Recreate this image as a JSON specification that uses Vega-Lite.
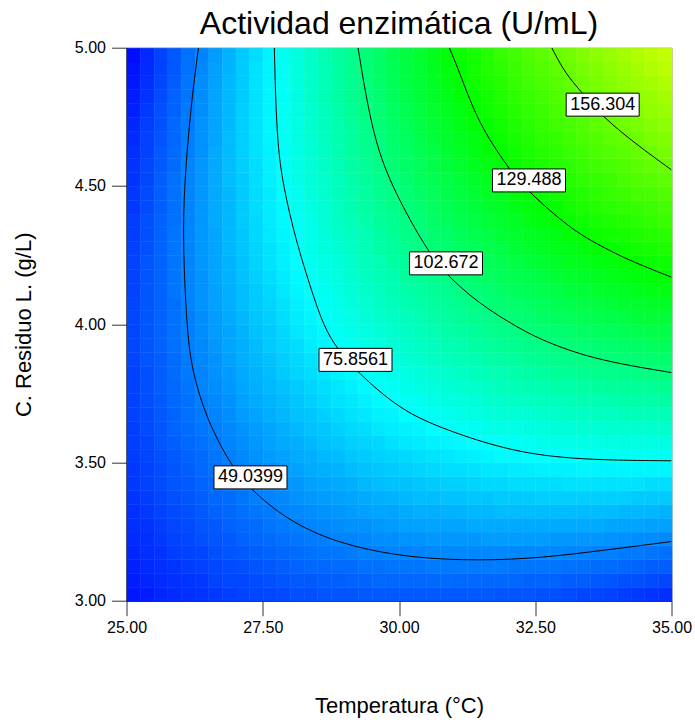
{
  "$schema": "https://vega.github.io/schema/vega-lite/v6.json",
  "width": 545,
  "height": 553,
  "autosize": {"type": "none"},
  "padding": {"left": 126.5, "top": 47.7, "right": 23.5, "bottom": 123.3},
  "background": "white",
  "title": {
    "text": "Actividad enzimática (U/mL)",
    "fontSize": 32,
    "fontWeight": "normal",
    "font": "Liberation Sans",
    "color": "black",
    "anchor": "middle",
    "offset": -1
  },
  "config": {
    "font": "Liberation Sans",
    "view": {"stroke": "#8c8c8c", "strokeWidth": 1},
    "axis": {
      "grid": false,
      "domainColor": "black",
      "domainWidth": 1,
      "tickColor": "#333333",
      "tickSize": 15,
      "labelFontSize": 16,
      "labelColor": "black",
      "titleFontSize": 22,
      "titleFontWeight": "normal",
      "titleColor": "black",
      "labelFlush": false,
      "labelOverlap": false,
      "zindex": 1
    }
  },
  "datasets": {
    "grid": [
      {"t":25.125,"c":3.025,"v":27},{"t":25.375,"c":3.025,"v":28},{"t":25.625,"c":3.025,"v":30},{"t":25.875,"c":3.025,"v":31},{"t":26.125,"c":3.025,"v":32},{"t":26.375,"c":3.025,"v":33},{"t":26.625,"c":3.025,"v":34},{"t":26.875,"c":3.025,"v":35},{"t":27.125,"c":3.025,"v":36},{"t":27.375,"c":3.025,"v":37},{"t":27.625,"c":3.025,"v":37},{"t":27.875,"c":3.025,"v":38},{"t":28.125,"c":3.025,"v":39},{"t":28.375,"c":3.025,"v":39},{"t":28.625,"c":3.025,"v":40},{"t":28.875,"c":3.025,"v":40},{"t":29.125,"c":3.025,"v":40},{"t":29.375,"c":3.025,"v":41},{"t":29.625,"c":3.025,"v":41},{"t":29.875,"c":3.025,"v":41},{"t":30.125,"c":3.025,"v":41},{"t":30.375,"c":3.025,"v":41},{"t":30.625,"c":3.025,"v":41},{"t":30.875,"c":3.025,"v":41},{"t":31.125,"c":3.025,"v":41},{"t":31.375,"c":3.025,"v":41},{"t":31.625,"c":3.025,"v":41},{"t":31.875,"c":3.025,"v":40},{"t":32.125,"c":3.025,"v":40},{"t":32.375,"c":3.025,"v":40},{"t":32.625,"c":3.025,"v":39},{"t":32.875,"c":3.025,"v":39},{"t":33.125,"c":3.025,"v":38},{"t":33.375,"c":3.025,"v":37},{"t":33.625,"c":3.025,"v":37},{"t":33.875,"c":3.025,"v":36},{"t":34.125,"c":3.025,"v":35},{"t":34.375,"c":3.025,"v":34},{"t":34.625,"c":3.025,"v":33},{"t":34.875,"c":3.025,"v":32},
      {"t":25.125,"c":3.075,"v":28},{"t":25.375,"c":3.075,"v":30},{"t":25.625,"c":3.075,"v":31},{"t":25.875,"c":3.075,"v":32},{"t":26.125,"c":3.075,"v":33},{"t":26.375,"c":3.075,"v":34},{"t":26.625,"c":3.075,"v":36},{"t":26.875,"c":3.075,"v":37},{"t":27.125,"c":3.075,"v":37},{"t":27.375,"c":3.075,"v":38},{"t":27.625,"c":3.075,"v":39},{"t":27.875,"c":3.075,"v":40},{"t":28.125,"c":3.075,"v":41},{"t":28.375,"c":3.075,"v":41},{"t":28.625,"c":3.075,"v":42},{"t":28.875,"c":3.075,"v":42},{"t":29.125,"c":3.075,"v":43},{"t":29.375,"c":3.075,"v":43},{"t":29.625,"c":3.075,"v":44},{"t":29.875,"c":3.075,"v":44},{"t":30.125,"c":3.075,"v":44},{"t":30.375,"c":3.075,"v":44},{"t":30.625,"c":3.075,"v":44},{"t":30.875,"c":3.075,"v":45},{"t":31.125,"c":3.075,"v":44},{"t":31.375,"c":3.075,"v":44},{"t":31.625,"c":3.075,"v":44},{"t":31.875,"c":3.075,"v":44},{"t":32.125,"c":3.075,"v":44},{"t":32.375,"c":3.075,"v":43},{"t":32.625,"c":3.075,"v":43},{"t":32.875,"c":3.075,"v":43},{"t":33.125,"c":3.075,"v":42},{"t":33.375,"c":3.075,"v":42},{"t":33.625,"c":3.075,"v":41},{"t":33.875,"c":3.075,"v":40},{"t":34.125,"c":3.075,"v":39},{"t":34.375,"c":3.075,"v":39},{"t":34.625,"c":3.075,"v":38},{"t":34.875,"c":3.075,"v":37},
      {"t":25.125,"c":3.125,"v":29},{"t":25.375,"c":3.125,"v":31},{"t":25.625,"c":3.125,"v":32},{"t":25.875,"c":3.125,"v":33},{"t":26.125,"c":3.125,"v":35},{"t":26.375,"c":3.125,"v":36},{"t":26.625,"c":3.125,"v":37},{"t":26.875,"c":3.125,"v":38},{"t":27.125,"c":3.125,"v":39},{"t":27.375,"c":3.125,"v":40},{"t":27.625,"c":3.125,"v":41},{"t":27.875,"c":3.125,"v":42},{"t":28.125,"c":3.125,"v":43},{"t":28.375,"c":3.125,"v":44},{"t":28.625,"c":3.125,"v":44},{"t":28.875,"c":3.125,"v":45},{"t":29.125,"c":3.125,"v":45},{"t":29.375,"c":3.125,"v":46},{"t":29.625,"c":3.125,"v":46},{"t":29.875,"c":3.125,"v":47},{"t":30.125,"c":3.125,"v":47},{"t":30.375,"c":3.125,"v":47},{"t":30.625,"c":3.125,"v":48},{"t":30.875,"c":3.125,"v":48},{"t":31.125,"c":3.125,"v":48},{"t":31.375,"c":3.125,"v":48},{"t":31.625,"c":3.125,"v":48},{"t":31.875,"c":3.125,"v":48},{"t":32.125,"c":3.125,"v":47},{"t":32.375,"c":3.125,"v":47},{"t":32.625,"c":3.125,"v":47},{"t":32.875,"c":3.125,"v":47},{"t":33.125,"c":3.125,"v":46},{"t":33.375,"c":3.125,"v":46},{"t":33.625,"c":3.125,"v":45},{"t":33.875,"c":3.125,"v":45},{"t":34.125,"c":3.125,"v":44},{"t":34.375,"c":3.125,"v":43},{"t":34.625,"c":3.125,"v":42},{"t":34.875,"c":3.125,"v":42},
      {"t":25.125,"c":3.175,"v":30},{"t":25.375,"c":3.175,"v":32},{"t":25.625,"c":3.175,"v":33},{"t":25.875,"c":3.175,"v":35},{"t":26.125,"c":3.175,"v":36},{"t":26.375,"c":3.175,"v":37},{"t":26.625,"c":3.175,"v":39},{"t":26.875,"c":3.175,"v":40},{"t":27.125,"c":3.175,"v":41},{"t":27.375,"c":3.175,"v":42},{"t":27.625,"c":3.175,"v":43},{"t":27.875,"c":3.175,"v":44},{"t":28.125,"c":3.175,"v":45},{"t":28.375,"c":3.175,"v":46},{"t":28.625,"c":3.175,"v":47},{"t":28.875,"c":3.175,"v":47},{"t":29.125,"c":3.175,"v":48},{"t":29.375,"c":3.175,"v":49},{"t":29.625,"c":3.175,"v":49},{"t":29.875,"c":3.175,"v":50},{"t":30.125,"c":3.175,"v":50},{"t":30.375,"c":3.175,"v":50},{"t":30.625,"c":3.175,"v":51},{"t":30.875,"c":3.175,"v":51},{"t":31.125,"c":3.175,"v":51},{"t":31.375,"c":3.175,"v":51},{"t":31.625,"c":3.175,"v":51},{"t":31.875,"c":3.175,"v":51},{"t":32.125,"c":3.175,"v":51},{"t":32.375,"c":3.175,"v":51},{"t":32.625,"c":3.175,"v":51},{"t":32.875,"c":3.175,"v":51},{"t":33.125,"c":3.175,"v":50},{"t":33.375,"c":3.175,"v":50},{"t":33.625,"c":3.175,"v":49},{"t":33.875,"c":3.175,"v":49},{"t":34.125,"c":3.175,"v":48},{"t":34.375,"c":3.175,"v":48},{"t":34.625,"c":3.175,"v":47},{"t":34.875,"c":3.175,"v":46},
      {"t":25.125,"c":3.225,"v":31},{"t":25.375,"c":3.225,"v":32},{"t":25.625,"c":3.225,"v":34},{"t":25.875,"c":3.225,"v":36},{"t":26.125,"c":3.225,"v":37},{"t":26.375,"c":3.225,"v":39},{"t":26.625,"c":3.225,"v":40},{"t":26.875,"c":3.225,"v":41},{"t":27.125,"c":3.225,"v":43},{"t":27.375,"c":3.225,"v":44},{"t":27.625,"c":3.225,"v":45},{"t":27.875,"c":3.225,"v":46},{"t":28.125,"c":3.225,"v":47},{"t":28.375,"c":3.225,"v":48},{"t":28.625,"c":3.225,"v":49},{"t":28.875,"c":3.225,"v":50},{"t":29.125,"c":3.225,"v":50},{"t":29.375,"c":3.225,"v":51},{"t":29.625,"c":3.225,"v":52},{"t":29.875,"c":3.225,"v":52},{"t":30.125,"c":3.225,"v":53},{"t":30.375,"c":3.225,"v":53},{"t":30.625,"c":3.225,"v":54},{"t":30.875,"c":3.225,"v":54},{"t":31.125,"c":3.225,"v":54},{"t":31.375,"c":3.225,"v":54},{"t":31.625,"c":3.225,"v":55},{"t":31.875,"c":3.225,"v":55},{"t":32.125,"c":3.225,"v":55},{"t":32.375,"c":3.225,"v":55},{"t":32.625,"c":3.225,"v":55},{"t":32.875,"c":3.225,"v":54},{"t":33.125,"c":3.225,"v":54},{"t":33.375,"c":3.225,"v":54},{"t":33.625,"c":3.225,"v":54},{"t":33.875,"c":3.225,"v":53},{"t":34.125,"c":3.225,"v":53},{"t":34.375,"c":3.225,"v":52},{"t":34.625,"c":3.225,"v":52},{"t":34.875,"c":3.225,"v":51},
      {"t":25.125,"c":3.275,"v":32},{"t":25.375,"c":3.275,"v":33},{"t":25.625,"c":3.275,"v":35},{"t":25.875,"c":3.275,"v":37},{"t":26.125,"c":3.275,"v":38},{"t":26.375,"c":3.275,"v":40},{"t":26.625,"c":3.275,"v":41},{"t":26.875,"c":3.275,"v":43},{"t":27.125,"c":3.275,"v":44},{"t":27.375,"c":3.275,"v":45},{"t":27.625,"c":3.275,"v":47},{"t":27.875,"c":3.275,"v":48},{"t":28.125,"c":3.275,"v":49},{"t":28.375,"c":3.275,"v":50},{"t":28.625,"c":3.275,"v":51},{"t":28.875,"c":3.275,"v":52},{"t":29.125,"c":3.275,"v":53},{"t":29.375,"c":3.275,"v":53},{"t":29.625,"c":3.275,"v":54},{"t":29.875,"c":3.275,"v":55},{"t":30.125,"c":3.275,"v":56},{"t":30.375,"c":3.275,"v":56},{"t":30.625,"c":3.275,"v":57},{"t":30.875,"c":3.275,"v":57},{"t":31.125,"c":3.275,"v":57},{"t":31.375,"c":3.275,"v":58},{"t":31.625,"c":3.275,"v":58},{"t":31.875,"c":3.275,"v":58},{"t":32.125,"c":3.275,"v":58},{"t":32.375,"c":3.275,"v":58},{"t":32.625,"c":3.275,"v":58},{"t":32.875,"c":3.275,"v":58},{"t":33.125,"c":3.275,"v":58},{"t":33.375,"c":3.275,"v":58},{"t":33.625,"c":3.275,"v":58},{"t":33.875,"c":3.275,"v":57},{"t":34.125,"c":3.275,"v":57},{"t":34.375,"c":3.275,"v":57},{"t":34.625,"c":3.275,"v":56},{"t":34.875,"c":3.275,"v":56},
      {"t":25.125,"c":3.325,"v":32},{"t":25.375,"c":3.325,"v":34},{"t":25.625,"c":3.325,"v":36},{"t":25.875,"c":3.325,"v":38},{"t":26.125,"c":3.325,"v":39},{"t":26.375,"c":3.325,"v":41},{"t":26.625,"c":3.325,"v":43},{"t":26.875,"c":3.325,"v":44},{"t":27.125,"c":3.325,"v":46},{"t":27.375,"c":3.325,"v":47},{"t":27.625,"c":3.325,"v":48},{"t":27.875,"c":3.325,"v":50},{"t":28.125,"c":3.325,"v":51},{"t":28.375,"c":3.325,"v":52},{"t":28.625,"c":3.325,"v":53},{"t":28.875,"c":3.325,"v":54},{"t":29.125,"c":3.325,"v":55},{"t":29.375,"c":3.325,"v":56},{"t":29.625,"c":3.325,"v":57},{"t":29.875,"c":3.325,"v":57},{"t":30.125,"c":3.325,"v":58},{"t":30.375,"c":3.325,"v":59},{"t":30.625,"c":3.325,"v":59},{"t":30.875,"c":3.325,"v":60},{"t":31.125,"c":3.325,"v":60},{"t":31.375,"c":3.325,"v":61},{"t":31.625,"c":3.325,"v":61},{"t":31.875,"c":3.325,"v":62},{"t":32.125,"c":3.325,"v":62},{"t":32.375,"c":3.325,"v":62},{"t":32.625,"c":3.325,"v":62},{"t":32.875,"c":3.325,"v":62},{"t":33.125,"c":3.325,"v":62},{"t":33.375,"c":3.325,"v":62},{"t":33.625,"c":3.325,"v":62},{"t":33.875,"c":3.325,"v":62},{"t":34.125,"c":3.325,"v":61},{"t":34.375,"c":3.325,"v":61},{"t":34.625,"c":3.325,"v":61},{"t":34.875,"c":3.325,"v":60},
      {"t":25.125,"c":3.375,"v":33},{"t":25.375,"c":3.375,"v":35},{"t":25.625,"c":3.375,"v":37},{"t":25.875,"c":3.375,"v":39},{"t":26.125,"c":3.375,"v":40},{"t":26.375,"c":3.375,"v":42},{"t":26.625,"c":3.375,"v":44},{"t":26.875,"c":3.375,"v":45},{"t":27.125,"c":3.375,"v":47},{"t":27.375,"c":3.375,"v":49},{"t":27.625,"c":3.375,"v":50},{"t":27.875,"c":3.375,"v":51},{"t":28.125,"c":3.375,"v":53},{"t":28.375,"c":3.375,"v":54},{"t":28.625,"c":3.375,"v":55},{"t":28.875,"c":3.375,"v":56},{"t":29.125,"c":3.375,"v":57},{"t":29.375,"c":3.375,"v":58},{"t":29.625,"c":3.375,"v":59},{"t":29.875,"c":3.375,"v":60},{"t":30.125,"c":3.375,"v":61},{"t":30.375,"c":3.375,"v":62},{"t":30.625,"c":3.375,"v":62},{"t":30.875,"c":3.375,"v":63},{"t":31.125,"c":3.375,"v":63},{"t":31.375,"c":3.375,"v":64},{"t":31.625,"c":3.375,"v":64},{"t":31.875,"c":3.375,"v":65},{"t":32.125,"c":3.375,"v":65},{"t":32.375,"c":3.375,"v":65},{"t":32.625,"c":3.375,"v":66},{"t":32.875,"c":3.375,"v":66},{"t":33.125,"c":3.375,"v":66},{"t":33.375,"c":3.375,"v":66},{"t":33.625,"c":3.375,"v":66},{"t":33.875,"c":3.375,"v":66},{"t":34.125,"c":3.375,"v":66},{"t":34.375,"c":3.375,"v":65},{"t":34.625,"c":3.375,"v":65},{"t":34.875,"c":3.375,"v":65},
      {"t":25.125,"c":3.425,"v":34},{"t":25.375,"c":3.425,"v":36},{"t":25.625,"c":3.425,"v":38},{"t":25.875,"c":3.425,"v":40},{"t":26.125,"c":3.425,"v":41},{"t":26.375,"c":3.425,"v":43},{"t":26.625,"c":3.425,"v":45},{"t":26.875,"c":3.425,"v":47},{"t":27.125,"c":3.425,"v":48},{"t":27.375,"c":3.425,"v":50},{"t":27.625,"c":3.425,"v":52},{"t":27.875,"c":3.425,"v":53},{"t":28.125,"c":3.425,"v":54},{"t":28.375,"c":3.425,"v":56},{"t":28.625,"c":3.425,"v":57},{"t":28.875,"c":3.425,"v":58},{"t":29.125,"c":3.425,"v":59},{"t":29.375,"c":3.425,"v":61},{"t":29.625,"c":3.425,"v":62},{"t":29.875,"c":3.425,"v":63},{"t":30.125,"c":3.425,"v":63},{"t":30.375,"c":3.425,"v":64},{"t":30.625,"c":3.425,"v":65},{"t":30.875,"c":3.425,"v":66},{"t":31.125,"c":3.425,"v":66},{"t":31.375,"c":3.425,"v":67},{"t":31.625,"c":3.425,"v":68},{"t":31.875,"c":3.425,"v":68},{"t":32.125,"c":3.425,"v":69},{"t":32.375,"c":3.425,"v":69},{"t":32.625,"c":3.425,"v":69},{"t":32.875,"c":3.425,"v":69},{"t":33.125,"c":3.425,"v":70},{"t":33.375,"c":3.425,"v":70},{"t":33.625,"c":3.425,"v":70},{"t":33.875,"c":3.425,"v":70},{"t":34.125,"c":3.425,"v":70},{"t":34.375,"c":3.425,"v":70},{"t":34.625,"c":3.425,"v":69},{"t":34.875,"c":3.425,"v":69},
      {"t":25.125,"c":3.475,"v":34},{"t":25.375,"c":3.475,"v":36},{"t":25.625,"c":3.475,"v":38},{"t":25.875,"c":3.475,"v":40},{"t":26.125,"c":3.475,"v":42},{"t":26.375,"c":3.475,"v":44},{"t":26.625,"c":3.475,"v":46},{"t":26.875,"c":3.475,"v":48},{"t":27.125,"c":3.475,"v":50},{"t":27.375,"c":3.475,"v":51},{"t":27.625,"c":3.475,"v":53},{"t":27.875,"c":3.475,"v":55},{"t":28.125,"c":3.475,"v":56},{"t":28.375,"c":3.475,"v":58},{"t":28.625,"c":3.475,"v":59},{"t":28.875,"c":3.475,"v":60},{"t":29.125,"c":3.475,"v":62},{"t":29.375,"c":3.475,"v":63},{"t":29.625,"c":3.475,"v":64},{"t":29.875,"c":3.475,"v":65},{"t":30.125,"c":3.475,"v":66},{"t":30.375,"c":3.475,"v":67},{"t":30.625,"c":3.475,"v":68},{"t":30.875,"c":3.475,"v":69},{"t":31.125,"c":3.475,"v":69},{"t":31.375,"c":3.475,"v":70},{"t":31.625,"c":3.475,"v":71},{"t":31.875,"c":3.475,"v":71},{"t":32.125,"c":3.475,"v":72},{"t":32.375,"c":3.475,"v":72},{"t":32.625,"c":3.475,"v":73},{"t":32.875,"c":3.475,"v":73},{"t":33.125,"c":3.475,"v":73},{"t":33.375,"c":3.475,"v":74},{"t":33.625,"c":3.475,"v":74},{"t":33.875,"c":3.475,"v":74},{"t":34.125,"c":3.475,"v":74},{"t":34.375,"c":3.475,"v":74},{"t":34.625,"c":3.475,"v":74},{"t":34.875,"c":3.475,"v":74},
      {"t":25.125,"c":3.525,"v":35},{"t":25.375,"c":3.525,"v":37},{"t":25.625,"c":3.525,"v":39},{"t":25.875,"c":3.525,"v":41},{"t":26.125,"c":3.525,"v":43},{"t":26.375,"c":3.525,"v":45},{"t":26.625,"c":3.525,"v":47},{"t":26.875,"c":3.525,"v":49},{"t":27.125,"c":3.525,"v":51},{"t":27.375,"c":3.525,"v":53},{"t":27.625,"c":3.525,"v":55},{"t":27.875,"c":3.525,"v":56},{"t":28.125,"c":3.525,"v":58},{"t":28.375,"c":3.525,"v":59},{"t":28.625,"c":3.525,"v":61},{"t":28.875,"c":3.525,"v":62},{"t":29.125,"c":3.525,"v":64},{"t":29.375,"c":3.525,"v":65},{"t":29.625,"c":3.525,"v":66},{"t":29.875,"c":3.525,"v":67},{"t":30.125,"c":3.525,"v":68},{"t":30.375,"c":3.525,"v":69},{"t":30.625,"c":3.525,"v":70},{"t":30.875,"c":3.525,"v":71},{"t":31.125,"c":3.525,"v":72},{"t":31.375,"c":3.525,"v":73},{"t":31.625,"c":3.525,"v":74},{"t":31.875,"c":3.525,"v":75},{"t":32.125,"c":3.525,"v":75},{"t":32.375,"c":3.525,"v":76},{"t":32.625,"c":3.525,"v":76},{"t":32.875,"c":3.525,"v":77},{"t":33.125,"c":3.525,"v":77},{"t":33.375,"c":3.525,"v":77},{"t":33.625,"c":3.525,"v":78},{"t":33.875,"c":3.525,"v":78},{"t":34.125,"c":3.525,"v":78},{"t":34.375,"c":3.525,"v":78},{"t":34.625,"c":3.525,"v":78},{"t":34.875,"c":3.525,"v":78},
      {"t":25.125,"c":3.575,"v":35},{"t":25.375,"c":3.575,"v":37},{"t":25.625,"c":3.575,"v":40},{"t":25.875,"c":3.575,"v":42},{"t":26.125,"c":3.575,"v":44},{"t":26.375,"c":3.575,"v":46},{"t":26.625,"c":3.575,"v":48},{"t":26.875,"c":3.575,"v":50},{"t":27.125,"c":3.575,"v":52},{"t":27.375,"c":3.575,"v":54},{"t":27.625,"c":3.575,"v":56},{"t":27.875,"c":3.575,"v":58},{"t":28.125,"c":3.575,"v":59},{"t":28.375,"c":3.575,"v":61},{"t":28.625,"c":3.575,"v":63},{"t":28.875,"c":3.575,"v":64},{"t":29.125,"c":3.575,"v":66},{"t":29.375,"c":3.575,"v":67},{"t":29.625,"c":3.575,"v":68},{"t":29.875,"c":3.575,"v":70},{"t":30.125,"c":3.575,"v":71},{"t":30.375,"c":3.575,"v":72},{"t":30.625,"c":3.575,"v":73},{"t":30.875,"c":3.575,"v":74},{"t":31.125,"c":3.575,"v":75},{"t":31.375,"c":3.575,"v":76},{"t":31.625,"c":3.575,"v":77},{"t":31.875,"c":3.575,"v":78},{"t":32.125,"c":3.575,"v":78},{"t":32.375,"c":3.575,"v":79},{"t":32.625,"c":3.575,"v":80},{"t":32.875,"c":3.575,"v":80},{"t":33.125,"c":3.575,"v":81},{"t":33.375,"c":3.575,"v":81},{"t":33.625,"c":3.575,"v":81},{"t":33.875,"c":3.575,"v":82},{"t":34.125,"c":3.575,"v":82},{"t":34.375,"c":3.575,"v":82},{"t":34.625,"c":3.575,"v":82},{"t":34.875,"c":3.575,"v":82},
      {"t":25.125,"c":3.625,"v":35},{"t":25.375,"c":3.625,"v":38},{"t":25.625,"c":3.625,"v":40},{"t":25.875,"c":3.625,"v":43},{"t":26.125,"c":3.625,"v":45},{"t":26.375,"c":3.625,"v":47},{"t":26.625,"c":3.625,"v":49},{"t":26.875,"c":3.625,"v":51},{"t":27.125,"c":3.625,"v":53},{"t":27.375,"c":3.625,"v":55},{"t":27.625,"c":3.625,"v":57},{"t":27.875,"c":3.625,"v":59},{"t":28.125,"c":3.625,"v":61},{"t":28.375,"c":3.625,"v":63},{"t":28.625,"c":3.625,"v":64},{"t":28.875,"c":3.625,"v":66},{"t":29.125,"c":3.625,"v":68},{"t":29.375,"c":3.625,"v":69},{"t":29.625,"c":3.625,"v":71},{"t":29.875,"c":3.625,"v":72},{"t":30.125,"c":3.625,"v":73},{"t":30.375,"c":3.625,"v":74},{"t":30.625,"c":3.625,"v":76},{"t":30.875,"c":3.625,"v":77},{"t":31.125,"c":3.625,"v":78},{"t":31.375,"c":3.625,"v":79},{"t":31.625,"c":3.625,"v":80},{"t":31.875,"c":3.625,"v":81},{"t":32.125,"c":3.625,"v":81},{"t":32.375,"c":3.625,"v":82},{"t":32.625,"c":3.625,"v":83},{"t":32.875,"c":3.625,"v":84},{"t":33.125,"c":3.625,"v":84},{"t":33.375,"c":3.625,"v":85},{"t":33.625,"c":3.625,"v":85},{"t":33.875,"c":3.625,"v":86},{"t":34.125,"c":3.625,"v":86},{"t":34.375,"c":3.625,"v":86},{"t":34.625,"c":3.625,"v":86},{"t":34.875,"c":3.625,"v":87},
      {"t":25.125,"c":3.675,"v":36},{"t":25.375,"c":3.675,"v":38},{"t":25.625,"c":3.675,"v":41},{"t":25.875,"c":3.675,"v":43},{"t":26.125,"c":3.675,"v":46},{"t":26.375,"c":3.675,"v":48},{"t":26.625,"c":3.675,"v":50},{"t":26.875,"c":3.675,"v":52},{"t":27.125,"c":3.675,"v":55},{"t":27.375,"c":3.675,"v":57},{"t":27.625,"c":3.675,"v":59},{"t":27.875,"c":3.675,"v":61},{"t":28.125,"c":3.675,"v":63},{"t":28.375,"c":3.675,"v":64},{"t":28.625,"c":3.675,"v":66},{"t":28.875,"c":3.675,"v":68},{"t":29.125,"c":3.675,"v":70},{"t":29.375,"c":3.675,"v":71},{"t":29.625,"c":3.675,"v":73},{"t":29.875,"c":3.675,"v":74},{"t":30.125,"c":3.675,"v":76},{"t":30.375,"c":3.675,"v":77},{"t":30.625,"c":3.675,"v":78},{"t":30.875,"c":3.675,"v":79},{"t":31.125,"c":3.675,"v":81},{"t":31.375,"c":3.675,"v":82},{"t":31.625,"c":3.675,"v":83},{"t":31.875,"c":3.675,"v":84},{"t":32.125,"c":3.675,"v":85},{"t":32.375,"c":3.675,"v":85},{"t":32.625,"c":3.675,"v":86},{"t":32.875,"c":3.675,"v":87},{"t":33.125,"c":3.675,"v":88},{"t":33.375,"c":3.675,"v":88},{"t":33.625,"c":3.675,"v":89},{"t":33.875,"c":3.675,"v":89},{"t":34.125,"c":3.675,"v":90},{"t":34.375,"c":3.675,"v":90},{"t":34.625,"c":3.675,"v":90},{"t":34.875,"c":3.675,"v":91},
      {"t":25.125,"c":3.725,"v":36},{"t":25.375,"c":3.725,"v":39},{"t":25.625,"c":3.725,"v":41},{"t":25.875,"c":3.725,"v":44},{"t":26.125,"c":3.725,"v":46},{"t":26.375,"c":3.725,"v":49},{"t":26.625,"c":3.725,"v":51},{"t":26.875,"c":3.725,"v":53},{"t":27.125,"c":3.725,"v":56},{"t":27.375,"c":3.725,"v":58},{"t":27.625,"c":3.725,"v":60},{"t":27.875,"c":3.725,"v":62},{"t":28.125,"c":3.725,"v":64},{"t":28.375,"c":3.725,"v":66},{"t":28.625,"c":3.725,"v":68},{"t":28.875,"c":3.725,"v":70},{"t":29.125,"c":3.725,"v":71},{"t":29.375,"c":3.725,"v":73},{"t":29.625,"c":3.725,"v":75},{"t":29.875,"c":3.725,"v":76},{"t":30.125,"c":3.725,"v":78},{"t":30.375,"c":3.725,"v":79},{"t":30.625,"c":3.725,"v":81},{"t":30.875,"c":3.725,"v":82},{"t":31.125,"c":3.725,"v":83},{"t":31.375,"c":3.725,"v":84},{"t":31.625,"c":3.725,"v":86},{"t":31.875,"c":3.725,"v":87},{"t":32.125,"c":3.725,"v":88},{"t":32.375,"c":3.725,"v":89},{"t":32.625,"c":3.725,"v":90},{"t":32.875,"c":3.725,"v":90},{"t":33.125,"c":3.725,"v":91},{"t":33.375,"c":3.725,"v":92},{"t":33.625,"c":3.725,"v":92},{"t":33.875,"c":3.725,"v":93},{"t":34.125,"c":3.725,"v":94},{"t":34.375,"c":3.725,"v":94},{"t":34.625,"c":3.725,"v":94},{"t":34.875,"c":3.725,"v":95},
      {"t":25.125,"c":3.775,"v":36},{"t":25.375,"c":3.775,"v":39},{"t":25.625,"c":3.775,"v":42},{"t":25.875,"c":3.775,"v":44},{"t":26.125,"c":3.775,"v":47},{"t":26.375,"c":3.775,"v":50},{"t":26.625,"c":3.775,"v":52},{"t":26.875,"c":3.775,"v":54},{"t":27.125,"c":3.775,"v":57},{"t":27.375,"c":3.775,"v":59},{"t":27.625,"c":3.775,"v":61},{"t":27.875,"c":3.775,"v":63},{"t":28.125,"c":3.775,"v":65},{"t":28.375,"c":3.775,"v":67},{"t":28.625,"c":3.775,"v":69},{"t":28.875,"c":3.775,"v":71},{"t":29.125,"c":3.775,"v":73},{"t":29.375,"c":3.775,"v":75},{"t":29.625,"c":3.775,"v":77},{"t":29.875,"c":3.775,"v":78},{"t":30.125,"c":3.775,"v":80},{"t":30.375,"c":3.775,"v":82},{"t":30.625,"c":3.775,"v":83},{"t":30.875,"c":3.775,"v":84},{"t":31.125,"c":3.775,"v":86},{"t":31.375,"c":3.775,"v":87},{"t":31.625,"c":3.775,"v":88},{"t":31.875,"c":3.775,"v":90},{"t":32.125,"c":3.775,"v":91},{"t":32.375,"c":3.775,"v":92},{"t":32.625,"c":3.775,"v":93},{"t":32.875,"c":3.775,"v":94},{"t":33.125,"c":3.775,"v":94},{"t":33.375,"c":3.775,"v":95},{"t":33.625,"c":3.775,"v":96},{"t":33.875,"c":3.775,"v":97},{"t":34.125,"c":3.775,"v":97},{"t":34.375,"c":3.775,"v":98},{"t":34.625,"c":3.775,"v":98},{"t":34.875,"c":3.775,"v":99},
      {"t":25.125,"c":3.825,"v":36},{"t":25.375,"c":3.825,"v":39},{"t":25.625,"c":3.825,"v":42},{"t":25.875,"c":3.825,"v":45},{"t":26.125,"c":3.825,"v":48},{"t":26.375,"c":3.825,"v":50},{"t":26.625,"c":3.825,"v":53},{"t":26.875,"c":3.825,"v":55},{"t":27.125,"c":3.825,"v":58},{"t":27.375,"c":3.825,"v":60},{"t":27.625,"c":3.825,"v":62},{"t":27.875,"c":3.825,"v":65},{"t":28.125,"c":3.825,"v":67},{"t":28.375,"c":3.825,"v":69},{"t":28.625,"c":3.825,"v":71},{"t":28.875,"c":3.825,"v":73},{"t":29.125,"c":3.825,"v":75},{"t":29.375,"c":3.825,"v":77},{"t":29.625,"c":3.825,"v":79},{"t":29.875,"c":3.825,"v":80},{"t":30.125,"c":3.825,"v":82},{"t":30.375,"c":3.825,"v":84},{"t":30.625,"c":3.825,"v":85},{"t":30.875,"c":3.825,"v":87},{"t":31.125,"c":3.825,"v":88},{"t":31.375,"c":3.825,"v":90},{"t":31.625,"c":3.825,"v":91},{"t":31.875,"c":3.825,"v":92},{"t":32.125,"c":3.825,"v":94},{"t":32.375,"c":3.825,"v":95},{"t":32.625,"c":3.825,"v":96},{"t":32.875,"c":3.825,"v":97},{"t":33.125,"c":3.825,"v":98},{"t":33.375,"c":3.825,"v":99},{"t":33.625,"c":3.825,"v":100},{"t":33.875,"c":3.825,"v":100},{"t":34.125,"c":3.825,"v":101},{"t":34.375,"c":3.825,"v":102},{"t":34.625,"c":3.825,"v":102},{"t":34.875,"c":3.825,"v":103},
      {"t":25.125,"c":3.875,"v":37},{"t":25.375,"c":3.875,"v":40},{"t":25.625,"c":3.875,"v":42},{"t":25.875,"c":3.875,"v":45},{"t":26.125,"c":3.875,"v":48},{"t":26.375,"c":3.875,"v":51},{"t":26.625,"c":3.875,"v":53},{"t":26.875,"c":3.875,"v":56},{"t":27.125,"c":3.875,"v":59},{"t":27.375,"c":3.875,"v":61},{"t":27.625,"c":3.875,"v":63},{"t":27.875,"c":3.875,"v":66},{"t":28.125,"c":3.875,"v":68},{"t":28.375,"c":3.875,"v":70},{"t":28.625,"c":3.875,"v":72},{"t":28.875,"c":3.875,"v":75},{"t":29.125,"c":3.875,"v":77},{"t":29.375,"c":3.875,"v":79},{"t":29.625,"c":3.875,"v":81},{"t":29.875,"c":3.875,"v":82},{"t":30.125,"c":3.875,"v":84},{"t":30.375,"c":3.875,"v":86},{"t":30.625,"c":3.875,"v":88},{"t":30.875,"c":3.875,"v":89},{"t":31.125,"c":3.875,"v":91},{"t":31.375,"c":3.875,"v":92},{"t":31.625,"c":3.875,"v":94},{"t":31.875,"c":3.875,"v":95},{"t":32.125,"c":3.875,"v":96},{"t":32.375,"c":3.875,"v":98},{"t":32.625,"c":3.875,"v":99},{"t":32.875,"c":3.875,"v":100},{"t":33.125,"c":3.875,"v":101},{"t":33.375,"c":3.875,"v":102},{"t":33.625,"c":3.875,"v":103},{"t":33.875,"c":3.875,"v":104},{"t":34.125,"c":3.875,"v":105},{"t":34.375,"c":3.875,"v":106},{"t":34.625,"c":3.875,"v":106},{"t":34.875,"c":3.875,"v":107},
      {"t":25.125,"c":3.925,"v":37},{"t":25.375,"c":3.925,"v":40},{"t":25.625,"c":3.925,"v":43},{"t":25.875,"c":3.925,"v":46},{"t":26.125,"c":3.925,"v":49},{"t":26.375,"c":3.925,"v":51},{"t":26.625,"c":3.925,"v":54},{"t":26.875,"c":3.925,"v":57},{"t":27.125,"c":3.925,"v":59},{"t":27.375,"c":3.925,"v":62},{"t":27.625,"c":3.925,"v":65},{"t":27.875,"c":3.925,"v":67},{"t":28.125,"c":3.925,"v":69},{"t":28.375,"c":3.925,"v":72},{"t":28.625,"c":3.925,"v":74},{"t":28.875,"c":3.925,"v":76},{"t":29.125,"c":3.925,"v":78},{"t":29.375,"c":3.925,"v":80},{"t":29.625,"c":3.925,"v":82},{"t":29.875,"c":3.925,"v":84},{"t":30.125,"c":3.925,"v":86},{"t":30.375,"c":3.925,"v":88},{"t":30.625,"c":3.925,"v":90},{"t":30.875,"c":3.925,"v":92},{"t":31.125,"c":3.925,"v":93},{"t":31.375,"c":3.925,"v":95},{"t":31.625,"c":3.925,"v":96},{"t":31.875,"c":3.925,"v":98},{"t":32.125,"c":3.925,"v":99},{"t":32.375,"c":3.925,"v":101},{"t":32.625,"c":3.925,"v":102},{"t":32.875,"c":3.925,"v":103},{"t":33.125,"c":3.925,"v":104},{"t":33.375,"c":3.925,"v":105},{"t":33.625,"c":3.925,"v":106},{"t":33.875,"c":3.925,"v":107},{"t":34.125,"c":3.925,"v":108},{"t":34.375,"c":3.925,"v":109},{"t":34.625,"c":3.925,"v":110},{"t":34.875,"c":3.925,"v":111},
      {"t":25.125,"c":3.975,"v":37},{"t":25.375,"c":3.975,"v":40},{"t":25.625,"c":3.975,"v":43},{"t":25.875,"c":3.975,"v":46},{"t":26.125,"c":3.975,"v":49},{"t":26.375,"c":3.975,"v":52},{"t":26.625,"c":3.975,"v":55},{"t":26.875,"c":3.975,"v":57},{"t":27.125,"c":3.975,"v":60},{"t":27.375,"c":3.975,"v":63},{"t":27.625,"c":3.975,"v":65},{"t":27.875,"c":3.975,"v":68},{"t":28.125,"c":3.975,"v":71},{"t":28.375,"c":3.975,"v":73},{"t":28.625,"c":3.975,"v":75},{"t":28.875,"c":3.975,"v":78},{"t":29.125,"c":3.975,"v":80},{"t":29.375,"c":3.975,"v":82},{"t":29.625,"c":3.975,"v":84},{"t":29.875,"c":3.975,"v":86},{"t":30.125,"c":3.975,"v":88},{"t":30.375,"c":3.975,"v":90},{"t":30.625,"c":3.975,"v":92},{"t":30.875,"c":3.975,"v":94},{"t":31.125,"c":3.975,"v":96},{"t":31.375,"c":3.975,"v":97},{"t":31.625,"c":3.975,"v":99},{"t":31.875,"c":3.975,"v":101},{"t":32.125,"c":3.975,"v":102},{"t":32.375,"c":3.975,"v":104},{"t":32.625,"c":3.975,"v":105},{"t":32.875,"c":3.975,"v":106},{"t":33.125,"c":3.975,"v":107},{"t":33.375,"c":3.975,"v":109},{"t":33.625,"c":3.975,"v":110},{"t":33.875,"c":3.975,"v":111},{"t":34.125,"c":3.975,"v":112},{"t":34.375,"c":3.975,"v":113},{"t":34.625,"c":3.975,"v":114},{"t":34.875,"c":3.975,"v":115},
      {"t":25.125,"c":4.025,"v":37},{"t":25.375,"c":4.025,"v":40},{"t":25.625,"c":4.025,"v":43},{"t":25.875,"c":4.025,"v":46},{"t":26.125,"c":4.025,"v":49},{"t":26.375,"c":4.025,"v":52},{"t":26.625,"c":4.025,"v":55},{"t":26.875,"c":4.025,"v":58},{"t":27.125,"c":4.025,"v":61},{"t":27.375,"c":4.025,"v":64},{"t":27.625,"c":4.025,"v":66},{"t":27.875,"c":4.025,"v":69},{"t":28.125,"c":4.025,"v":72},{"t":28.375,"c":4.025,"v":74},{"t":28.625,"c":4.025,"v":77},{"t":28.875,"c":4.025,"v":79},{"t":29.125,"c":4.025,"v":81},{"t":29.375,"c":4.025,"v":84},{"t":29.625,"c":4.025,"v":86},{"t":29.875,"c":4.025,"v":88},{"t":30.125,"c":4.025,"v":90},{"t":30.375,"c":4.025,"v":92},{"t":30.625,"c":4.025,"v":94},{"t":30.875,"c":4.025,"v":96},{"t":31.125,"c":4.025,"v":98},{"t":31.375,"c":4.025,"v":100},{"t":31.625,"c":4.025,"v":101},{"t":31.875,"c":4.025,"v":103},{"t":32.125,"c":4.025,"v":105},{"t":32.375,"c":4.025,"v":106},{"t":32.625,"c":4.025,"v":108},{"t":32.875,"c":4.025,"v":109},{"t":33.125,"c":4.025,"v":111},{"t":33.375,"c":4.025,"v":112},{"t":33.625,"c":4.025,"v":113},{"t":33.875,"c":4.025,"v":114},{"t":34.125,"c":4.025,"v":115},{"t":34.375,"c":4.025,"v":117},{"t":34.625,"c":4.025,"v":118},{"t":34.875,"c":4.025,"v":118},
      {"t":25.125,"c":4.075,"v":37},{"t":25.375,"c":4.075,"v":40},{"t":25.625,"c":4.075,"v":43},{"t":25.875,"c":4.075,"v":46},{"t":26.125,"c":4.075,"v":50},{"t":26.375,"c":4.075,"v":53},{"t":26.625,"c":4.075,"v":56},{"t":26.875,"c":4.075,"v":59},{"t":27.125,"c":4.075,"v":62},{"t":27.375,"c":4.075,"v":65},{"t":27.625,"c":4.075,"v":67},{"t":27.875,"c":4.075,"v":70},{"t":28.125,"c":4.075,"v":73},{"t":28.375,"c":4.075,"v":75},{"t":28.625,"c":4.075,"v":78},{"t":28.875,"c":4.075,"v":80},{"t":29.125,"c":4.075,"v":83},{"t":29.375,"c":4.075,"v":85},{"t":29.625,"c":4.075,"v":88},{"t":29.875,"c":4.075,"v":90},{"t":30.125,"c":4.075,"v":92},{"t":30.375,"c":4.075,"v":94},{"t":30.625,"c":4.075,"v":96},{"t":30.875,"c":4.075,"v":98},{"t":31.125,"c":4.075,"v":100},{"t":31.375,"c":4.075,"v":102},{"t":31.625,"c":4.075,"v":104},{"t":31.875,"c":4.075,"v":106},{"t":32.125,"c":4.075,"v":107},{"t":32.375,"c":4.075,"v":109},{"t":32.625,"c":4.075,"v":111},{"t":32.875,"c":4.075,"v":112},{"t":33.125,"c":4.075,"v":114},{"t":33.375,"c":4.075,"v":115},{"t":33.625,"c":4.075,"v":116},{"t":33.875,"c":4.075,"v":118},{"t":34.125,"c":4.075,"v":119},{"t":34.375,"c":4.075,"v":120},{"t":34.625,"c":4.075,"v":121},{"t":34.875,"c":4.075,"v":122},
      {"t":25.125,"c":4.125,"v":36},{"t":25.375,"c":4.125,"v":40},{"t":25.625,"c":4.125,"v":43},{"t":25.875,"c":4.125,"v":47},{"t":26.125,"c":4.125,"v":50},{"t":26.375,"c":4.125,"v":53},{"t":26.625,"c":4.125,"v":56},{"t":26.875,"c":4.125,"v":59},{"t":27.125,"c":4.125,"v":62},{"t":27.375,"c":4.125,"v":65},{"t":27.625,"c":4.125,"v":68},{"t":27.875,"c":4.125,"v":71},{"t":28.125,"c":4.125,"v":74},{"t":28.375,"c":4.125,"v":77},{"t":28.625,"c":4.125,"v":79},{"t":28.875,"c":4.125,"v":82},{"t":29.125,"c":4.125,"v":84},{"t":29.375,"c":4.125,"v":87},{"t":29.625,"c":4.125,"v":89},{"t":29.875,"c":4.125,"v":92},{"t":30.125,"c":4.125,"v":94},{"t":30.375,"c":4.125,"v":96},{"t":30.625,"c":4.125,"v":98},{"t":30.875,"c":4.125,"v":100},{"t":31.125,"c":4.125,"v":102},{"t":31.375,"c":4.125,"v":104},{"t":31.625,"c":4.125,"v":106},{"t":31.875,"c":4.125,"v":108},{"t":32.125,"c":4.125,"v":110},{"t":32.375,"c":4.125,"v":112},{"t":32.625,"c":4.125,"v":113},{"t":32.875,"c":4.125,"v":115},{"t":33.125,"c":4.125,"v":117},{"t":33.375,"c":4.125,"v":118},{"t":33.625,"c":4.125,"v":120},{"t":33.875,"c":4.125,"v":121},{"t":34.125,"c":4.125,"v":122},{"t":34.375,"c":4.125,"v":124},{"t":34.625,"c":4.125,"v":125},{"t":34.875,"c":4.125,"v":126},
      {"t":25.125,"c":4.175,"v":36},{"t":25.375,"c":4.175,"v":40},{"t":25.625,"c":4.175,"v":43},{"t":25.875,"c":4.175,"v":47},{"t":26.125,"c":4.175,"v":50},{"t":26.375,"c":4.175,"v":53},{"t":26.625,"c":4.175,"v":57},{"t":26.875,"c":4.175,"v":60},{"t":27.125,"c":4.175,"v":63},{"t":27.375,"c":4.175,"v":66},{"t":27.625,"c":4.175,"v":69},{"t":27.875,"c":4.175,"v":72},{"t":28.125,"c":4.175,"v":75},{"t":28.375,"c":4.175,"v":78},{"t":28.625,"c":4.175,"v":80},{"t":28.875,"c":4.175,"v":83},{"t":29.125,"c":4.175,"v":86},{"t":29.375,"c":4.175,"v":88},{"t":29.625,"c":4.175,"v":91},{"t":29.875,"c":4.175,"v":93},{"t":30.125,"c":4.175,"v":96},{"t":30.375,"c":4.175,"v":98},{"t":30.625,"c":4.175,"v":100},{"t":30.875,"c":4.175,"v":102},{"t":31.125,"c":4.175,"v":105},{"t":31.375,"c":4.175,"v":107},{"t":31.625,"c":4.175,"v":109},{"t":31.875,"c":4.175,"v":111},{"t":32.125,"c":4.175,"v":113},{"t":32.375,"c":4.175,"v":114},{"t":32.625,"c":4.175,"v":116},{"t":32.875,"c":4.175,"v":118},{"t":33.125,"c":4.175,"v":120},{"t":33.375,"c":4.175,"v":121},{"t":33.625,"c":4.175,"v":123},{"t":33.875,"c":4.175,"v":124},{"t":34.125,"c":4.175,"v":126},{"t":34.375,"c":4.175,"v":127},{"t":34.625,"c":4.175,"v":128},{"t":34.875,"c":4.175,"v":130},
      {"t":25.125,"c":4.225,"v":36},{"t":25.375,"c":4.225,"v":40},{"t":25.625,"c":4.225,"v":43},{"t":25.875,"c":4.225,"v":47},{"t":26.125,"c":4.225,"v":50},{"t":26.375,"c":4.225,"v":54},{"t":26.625,"c":4.225,"v":57},{"t":26.875,"c":4.225,"v":60},{"t":27.125,"c":4.225,"v":63},{"t":27.375,"c":4.225,"v":67},{"t":27.625,"c":4.225,"v":70},{"t":27.875,"c":4.225,"v":73},{"t":28.125,"c":4.225,"v":76},{"t":28.375,"c":4.225,"v":79},{"t":28.625,"c":4.225,"v":81},{"t":28.875,"c":4.225,"v":84},{"t":29.125,"c":4.225,"v":87},{"t":29.375,"c":4.225,"v":90},{"t":29.625,"c":4.225,"v":92},{"t":29.875,"c":4.225,"v":95},{"t":30.125,"c":4.225,"v":97},{"t":30.375,"c":4.225,"v":100},{"t":30.625,"c":4.225,"v":102},{"t":30.875,"c":4.225,"v":104},{"t":31.125,"c":4.225,"v":107},{"t":31.375,"c":4.225,"v":109},{"t":31.625,"c":4.225,"v":111},{"t":31.875,"c":4.225,"v":113},{"t":32.125,"c":4.225,"v":115},{"t":32.375,"c":4.225,"v":117},{"t":32.625,"c":4.225,"v":119},{"t":32.875,"c":4.225,"v":121},{"t":33.125,"c":4.225,"v":123},{"t":33.375,"c":4.225,"v":124},{"t":33.625,"c":4.225,"v":126},{"t":33.875,"c":4.225,"v":127},{"t":34.125,"c":4.225,"v":129},{"t":34.375,"c":4.225,"v":130},{"t":34.625,"c":4.225,"v":132},{"t":34.875,"c":4.225,"v":133},
      {"t":25.125,"c":4.275,"v":36},{"t":25.375,"c":4.275,"v":39},{"t":25.625,"c":4.275,"v":43},{"t":25.875,"c":4.275,"v":47},{"t":26.125,"c":4.275,"v":50},{"t":26.375,"c":4.275,"v":54},{"t":26.625,"c":4.275,"v":57},{"t":26.875,"c":4.275,"v":61},{"t":27.125,"c":4.275,"v":64},{"t":27.375,"c":4.275,"v":67},{"t":27.625,"c":4.275,"v":70},{"t":27.875,"c":4.275,"v":73},{"t":28.125,"c":4.275,"v":77},{"t":28.375,"c":4.275,"v":80},{"t":28.625,"c":4.275,"v":83},{"t":28.875,"c":4.275,"v":85},{"t":29.125,"c":4.275,"v":88},{"t":29.375,"c":4.275,"v":91},{"t":29.625,"c":4.275,"v":94},{"t":29.875,"c":4.275,"v":96},{"t":30.125,"c":4.275,"v":99},{"t":30.375,"c":4.275,"v":102},{"t":30.625,"c":4.275,"v":104},{"t":30.875,"c":4.275,"v":106},{"t":31.125,"c":4.275,"v":109},{"t":31.375,"c":4.275,"v":111},{"t":31.625,"c":4.275,"v":113},{"t":31.875,"c":4.275,"v":115},{"t":32.125,"c":4.275,"v":118},{"t":32.375,"c":4.275,"v":120},{"t":32.625,"c":4.275,"v":122},{"t":32.875,"c":4.275,"v":124},{"t":33.125,"c":4.275,"v":125},{"t":33.375,"c":4.275,"v":127},{"t":33.625,"c":4.275,"v":129},{"t":33.875,"c":4.275,"v":131},{"t":34.125,"c":4.275,"v":132},{"t":34.375,"c":4.275,"v":134},{"t":34.625,"c":4.275,"v":135},{"t":34.875,"c":4.275,"v":137},
      {"t":25.125,"c":4.325,"v":35},{"t":25.375,"c":4.325,"v":39},{"t":25.625,"c":4.325,"v":43},{"t":25.875,"c":4.325,"v":47},{"t":26.125,"c":4.325,"v":50},{"t":26.375,"c":4.325,"v":54},{"t":26.625,"c":4.325,"v":57},{"t":26.875,"c":4.325,"v":61},{"t":27.125,"c":4.325,"v":64},{"t":27.375,"c":4.325,"v":68},{"t":27.625,"c":4.325,"v":71},{"t":27.875,"c":4.325,"v":74},{"t":28.125,"c":4.325,"v":77},{"t":28.375,"c":4.325,"v":80},{"t":28.625,"c":4.325,"v":84},{"t":28.875,"c":4.325,"v":87},{"t":29.125,"c":4.325,"v":89},{"t":29.375,"c":4.325,"v":92},{"t":29.625,"c":4.325,"v":95},{"t":29.875,"c":4.325,"v":98},{"t":30.125,"c":4.325,"v":101},{"t":30.375,"c":4.325,"v":103},{"t":30.625,"c":4.325,"v":106},{"t":30.875,"c":4.325,"v":108},{"t":31.125,"c":4.325,"v":111},{"t":31.375,"c":4.325,"v":113},{"t":31.625,"c":4.325,"v":115},{"t":31.875,"c":4.325,"v":118},{"t":32.125,"c":4.325,"v":120},{"t":32.375,"c":4.325,"v":122},{"t":32.625,"c":4.325,"v":124},{"t":32.875,"c":4.325,"v":126},{"t":33.125,"c":4.325,"v":128},{"t":33.375,"c":4.325,"v":130},{"t":33.625,"c":4.325,"v":132},{"t":33.875,"c":4.325,"v":134},{"t":34.125,"c":4.325,"v":135},{"t":34.375,"c":4.325,"v":137},{"t":34.625,"c":4.325,"v":139},{"t":34.875,"c":4.325,"v":140},
      {"t":25.125,"c":4.375,"v":35},{"t":25.375,"c":4.375,"v":39},{"t":25.625,"c":4.375,"v":43},{"t":25.875,"c":4.375,"v":46},{"t":26.125,"c":4.375,"v":50},{"t":26.375,"c":4.375,"v":54},{"t":26.625,"c":4.375,"v":58},{"t":26.875,"c":4.375,"v":61},{"t":27.125,"c":4.375,"v":65},{"t":27.375,"c":4.375,"v":68},{"t":27.625,"c":4.375,"v":72},{"t":27.875,"c":4.375,"v":75},{"t":28.125,"c":4.375,"v":78},{"t":28.375,"c":4.375,"v":81},{"t":28.625,"c":4.375,"v":85},{"t":28.875,"c":4.375,"v":88},{"t":29.125,"c":4.375,"v":91},{"t":29.375,"c":4.375,"v":94},{"t":29.625,"c":4.375,"v":97},{"t":29.875,"c":4.375,"v":99},{"t":30.125,"c":4.375,"v":102},{"t":30.375,"c":4.375,"v":105},{"t":30.625,"c":4.375,"v":108},{"t":30.875,"c":4.375,"v":110},{"t":31.125,"c":4.375,"v":113},{"t":31.375,"c":4.375,"v":115},{"t":31.625,"c":4.375,"v":118},{"t":31.875,"c":4.375,"v":120},{"t":32.125,"c":4.375,"v":122},{"t":32.375,"c":4.375,"v":125},{"t":32.625,"c":4.375,"v":127},{"t":32.875,"c":4.375,"v":129},{"t":33.125,"c":4.375,"v":131},{"t":33.375,"c":4.375,"v":133},{"t":33.625,"c":4.375,"v":135},{"t":33.875,"c":4.375,"v":137},{"t":34.125,"c":4.375,"v":139},{"t":34.375,"c":4.375,"v":140},{"t":34.625,"c":4.375,"v":142},{"t":34.875,"c":4.375,"v":144},
      {"t":25.125,"c":4.425,"v":34},{"t":25.375,"c":4.425,"v":38},{"t":25.625,"c":4.425,"v":42},{"t":25.875,"c":4.425,"v":46},{"t":26.125,"c":4.425,"v":50},{"t":26.375,"c":4.425,"v":54},{"t":26.625,"c":4.425,"v":58},{"t":26.875,"c":4.425,"v":61},{"t":27.125,"c":4.425,"v":65},{"t":27.375,"c":4.425,"v":69},{"t":27.625,"c":4.425,"v":72},{"t":27.875,"c":4.425,"v":75},{"t":28.125,"c":4.425,"v":79},{"t":28.375,"c":4.425,"v":82},{"t":28.625,"c":4.425,"v":85},{"t":28.875,"c":4.425,"v":89},{"t":29.125,"c":4.425,"v":92},{"t":29.375,"c":4.425,"v":95},{"t":29.625,"c":4.425,"v":98},{"t":29.875,"c":4.425,"v":101},{"t":30.125,"c":4.425,"v":104},{"t":30.375,"c":4.425,"v":106},{"t":30.625,"c":4.425,"v":109},{"t":30.875,"c":4.425,"v":112},{"t":31.125,"c":4.425,"v":115},{"t":31.375,"c":4.425,"v":117},{"t":31.625,"c":4.425,"v":120},{"t":31.875,"c":4.425,"v":122},{"t":32.125,"c":4.425,"v":125},{"t":32.375,"c":4.425,"v":127},{"t":32.625,"c":4.425,"v":129},{"t":32.875,"c":4.425,"v":131},{"t":33.125,"c":4.425,"v":134},{"t":33.375,"c":4.425,"v":136},{"t":33.625,"c":4.425,"v":138},{"t":33.875,"c":4.425,"v":140},{"t":34.125,"c":4.425,"v":142},{"t":34.375,"c":4.425,"v":143},{"t":34.625,"c":4.425,"v":145},{"t":34.875,"c":4.425,"v":147},
      {"t":25.125,"c":4.475,"v":34},{"t":25.375,"c":4.475,"v":38},{"t":25.625,"c":4.475,"v":42},{"t":25.875,"c":4.475,"v":46},{"t":26.125,"c":4.475,"v":50},{"t":26.375,"c":4.475,"v":54},{"t":26.625,"c":4.475,"v":58},{"t":26.875,"c":4.475,"v":61},{"t":27.125,"c":4.475,"v":65},{"t":27.375,"c":4.475,"v":69},{"t":27.625,"c":4.475,"v":72},{"t":27.875,"c":4.475,"v":76},{"t":28.125,"c":4.475,"v":79},{"t":28.375,"c":4.475,"v":83},{"t":28.625,"c":4.475,"v":86},{"t":28.875,"c":4.475,"v":90},{"t":29.125,"c":4.475,"v":93},{"t":29.375,"c":4.475,"v":96},{"t":29.625,"c":4.475,"v":99},{"t":29.875,"c":4.475,"v":102},{"t":30.125,"c":4.475,"v":105},{"t":30.375,"c":4.475,"v":108},{"t":30.625,"c":4.475,"v":111},{"t":30.875,"c":4.475,"v":114},{"t":31.125,"c":4.475,"v":116},{"t":31.375,"c":4.475,"v":119},{"t":31.625,"c":4.475,"v":122},{"t":31.875,"c":4.475,"v":124},{"t":32.125,"c":4.475,"v":127},{"t":32.375,"c":4.475,"v":129},{"t":32.625,"c":4.475,"v":132},{"t":32.875,"c":4.475,"v":134},{"t":33.125,"c":4.475,"v":136},{"t":33.375,"c":4.475,"v":138},{"t":33.625,"c":4.475,"v":141},{"t":33.875,"c":4.475,"v":143},{"t":34.125,"c":4.475,"v":145},{"t":34.375,"c":4.475,"v":147},{"t":34.625,"c":4.475,"v":148},{"t":34.875,"c":4.475,"v":150},
      {"t":25.125,"c":4.525,"v":33},{"t":25.375,"c":4.525,"v":37},{"t":25.625,"c":4.525,"v":42},{"t":25.875,"c":4.525,"v":46},{"t":26.125,"c":4.525,"v":50},{"t":26.375,"c":4.525,"v":54},{"t":26.625,"c":4.525,"v":58},{"t":26.875,"c":4.525,"v":62},{"t":27.125,"c":4.525,"v":65},{"t":27.375,"c":4.525,"v":69},{"t":27.625,"c":4.525,"v":73},{"t":27.875,"c":4.525,"v":77},{"t":28.125,"c":4.525,"v":80},{"t":28.375,"c":4.525,"v":84},{"t":28.625,"c":4.525,"v":87},{"t":28.875,"c":4.525,"v":90},{"t":29.125,"c":4.525,"v":94},{"t":29.375,"c":4.525,"v":97},{"t":29.625,"c":4.525,"v":100},{"t":29.875,"c":4.525,"v":103},{"t":30.125,"c":4.525,"v":106},{"t":30.375,"c":4.525,"v":110},{"t":30.625,"c":4.525,"v":112},{"t":30.875,"c":4.525,"v":115},{"t":31.125,"c":4.525,"v":118},{"t":31.375,"c":4.525,"v":121},{"t":31.625,"c":4.525,"v":124},{"t":31.875,"c":4.525,"v":126},{"t":32.125,"c":4.525,"v":129},{"t":32.375,"c":4.525,"v":132},{"t":32.625,"c":4.525,"v":134},{"t":32.875,"c":4.525,"v":136},{"t":33.125,"c":4.525,"v":139},{"t":33.375,"c":4.525,"v":141},{"t":33.625,"c":4.525,"v":143},{"t":33.875,"c":4.525,"v":145},{"t":34.125,"c":4.525,"v":148},{"t":34.375,"c":4.525,"v":150},{"t":34.625,"c":4.525,"v":152},{"t":34.875,"c":4.525,"v":154},
      {"t":25.125,"c":4.575,"v":33},{"t":25.375,"c":4.575,"v":37},{"t":25.625,"c":4.575,"v":41},{"t":25.875,"c":4.575,"v":45},{"t":26.125,"c":4.575,"v":50},{"t":26.375,"c":4.575,"v":54},{"t":26.625,"c":4.575,"v":58},{"t":26.875,"c":4.575,"v":62},{"t":27.125,"c":4.575,"v":66},{"t":27.375,"c":4.575,"v":69},{"t":27.625,"c":4.575,"v":73},{"t":27.875,"c":4.575,"v":77},{"t":28.125,"c":4.575,"v":81},{"t":28.375,"c":4.575,"v":84},{"t":28.625,"c":4.575,"v":88},{"t":28.875,"c":4.575,"v":91},{"t":29.125,"c":4.575,"v":95},{"t":29.375,"c":4.575,"v":98},{"t":29.625,"c":4.575,"v":101},{"t":29.875,"c":4.575,"v":105},{"t":30.125,"c":4.575,"v":108},{"t":30.375,"c":4.575,"v":111},{"t":30.625,"c":4.575,"v":114},{"t":30.875,"c":4.575,"v":117},{"t":31.125,"c":4.575,"v":120},{"t":31.375,"c":4.575,"v":123},{"t":31.625,"c":4.575,"v":126},{"t":31.875,"c":4.575,"v":128},{"t":32.125,"c":4.575,"v":131},{"t":32.375,"c":4.575,"v":134},{"t":32.625,"c":4.575,"v":136},{"t":32.875,"c":4.575,"v":139},{"t":33.125,"c":4.575,"v":141},{"t":33.375,"c":4.575,"v":144},{"t":33.625,"c":4.575,"v":146},{"t":33.875,"c":4.575,"v":148},{"t":34.125,"c":4.575,"v":150},{"t":34.375,"c":4.575,"v":153},{"t":34.625,"c":4.575,"v":155},{"t":34.875,"c":4.575,"v":157},
      {"t":25.125,"c":4.625,"v":32},{"t":25.375,"c":4.625,"v":36},{"t":25.625,"c":4.625,"v":41},{"t":25.875,"c":4.625,"v":45},{"t":26.125,"c":4.625,"v":49},{"t":26.375,"c":4.625,"v":53},{"t":26.625,"c":4.625,"v":58},{"t":26.875,"c":4.625,"v":62},{"t":27.125,"c":4.625,"v":66},{"t":27.375,"c":4.625,"v":70},{"t":27.625,"c":4.625,"v":73},{"t":27.875,"c":4.625,"v":77},{"t":28.125,"c":4.625,"v":81},{"t":28.375,"c":4.625,"v":85},{"t":28.625,"c":4.625,"v":88},{"t":28.875,"c":4.625,"v":92},{"t":29.125,"c":4.625,"v":96},{"t":29.375,"c":4.625,"v":99},{"t":29.625,"c":4.625,"v":102},{"t":29.875,"c":4.625,"v":106},{"t":30.125,"c":4.625,"v":109},{"t":30.375,"c":4.625,"v":112},{"t":30.625,"c":4.625,"v":115},{"t":30.875,"c":4.625,"v":119},{"t":31.125,"c":4.625,"v":122},{"t":31.375,"c":4.625,"v":125},{"t":31.625,"c":4.625,"v":128},{"t":31.875,"c":4.625,"v":130},{"t":32.125,"c":4.625,"v":133},{"t":32.375,"c":4.625,"v":136},{"t":32.625,"c":4.625,"v":139},{"t":32.875,"c":4.625,"v":141},{"t":33.125,"c":4.625,"v":144},{"t":33.375,"c":4.625,"v":146},{"t":33.625,"c":4.625,"v":149},{"t":33.875,"c":4.625,"v":151},{"t":34.125,"c":4.625,"v":153},{"t":34.375,"c":4.625,"v":156},{"t":34.625,"c":4.625,"v":158},{"t":34.875,"c":4.625,"v":160},
      {"t":25.125,"c":4.675,"v":31},{"t":25.375,"c":4.675,"v":36},{"t":25.625,"c":4.675,"v":40},{"t":25.875,"c":4.675,"v":44},{"t":26.125,"c":4.675,"v":49},{"t":26.375,"c":4.675,"v":53},{"t":26.625,"c":4.675,"v":57},{"t":26.875,"c":4.675,"v":62},{"t":27.125,"c":4.675,"v":66},{"t":27.375,"c":4.675,"v":70},{"t":27.625,"c":4.675,"v":74},{"t":27.875,"c":4.675,"v":78},{"t":28.125,"c":4.675,"v":82},{"t":28.375,"c":4.675,"v":85},{"t":28.625,"c":4.675,"v":89},{"t":28.875,"c":4.675,"v":93},{"t":29.125,"c":4.675,"v":96},{"t":29.375,"c":4.675,"v":100},{"t":29.625,"c":4.675,"v":103},{"t":29.875,"c":4.675,"v":107},{"t":30.125,"c":4.675,"v":110},{"t":30.375,"c":4.675,"v":114},{"t":30.625,"c":4.675,"v":117},{"t":30.875,"c":4.675,"v":120},{"t":31.125,"c":4.675,"v":123},{"t":31.375,"c":4.675,"v":126},{"t":31.625,"c":4.675,"v":129},{"t":31.875,"c":4.675,"v":132},{"t":32.125,"c":4.675,"v":135},{"t":32.375,"c":4.675,"v":138},{"t":32.625,"c":4.675,"v":141},{"t":32.875,"c":4.675,"v":143},{"t":33.125,"c":4.675,"v":146},{"t":33.375,"c":4.675,"v":149},{"t":33.625,"c":4.675,"v":151},{"t":33.875,"c":4.675,"v":154},{"t":34.125,"c":4.675,"v":156},{"t":34.375,"c":4.675,"v":158},{"t":34.625,"c":4.675,"v":161},{"t":34.875,"c":4.675,"v":163},
      {"t":25.125,"c":4.725,"v":30},{"t":25.375,"c":4.725,"v":35},{"t":25.625,"c":4.725,"v":39},{"t":25.875,"c":4.725,"v":44},{"t":26.125,"c":4.725,"v":48},{"t":26.375,"c":4.725,"v":53},{"t":26.625,"c":4.725,"v":57},{"t":26.875,"c":4.725,"v":61},{"t":27.125,"c":4.725,"v":66},{"t":27.375,"c":4.725,"v":70},{"t":27.625,"c":4.725,"v":74},{"t":27.875,"c":4.725,"v":78},{"t":28.125,"c":4.725,"v":82},{"t":28.375,"c":4.725,"v":86},{"t":28.625,"c":4.725,"v":90},{"t":28.875,"c":4.725,"v":93},{"t":29.125,"c":4.725,"v":97},{"t":29.375,"c":4.725,"v":101},{"t":29.625,"c":4.725,"v":104},{"t":29.875,"c":4.725,"v":108},{"t":30.125,"c":4.725,"v":111},{"t":30.375,"c":4.725,"v":115},{"t":30.625,"c":4.725,"v":118},{"t":30.875,"c":4.725,"v":122},{"t":31.125,"c":4.725,"v":125},{"t":31.375,"c":4.725,"v":128},{"t":31.625,"c":4.725,"v":131},{"t":31.875,"c":4.725,"v":134},{"t":32.125,"c":4.725,"v":137},{"t":32.375,"c":4.725,"v":140},{"t":32.625,"c":4.725,"v":143},{"t":32.875,"c":4.725,"v":146},{"t":33.125,"c":4.725,"v":148},{"t":33.375,"c":4.725,"v":151},{"t":33.625,"c":4.725,"v":154},{"t":33.875,"c":4.725,"v":156},{"t":34.125,"c":4.725,"v":159},{"t":34.375,"c":4.725,"v":161},{"t":34.625,"c":4.725,"v":164},{"t":34.875,"c":4.725,"v":166},
      {"t":25.125,"c":4.775,"v":29},{"t":25.375,"c":4.775,"v":34},{"t":25.625,"c":4.775,"v":39},{"t":25.875,"c":4.775,"v":43},{"t":26.125,"c":4.775,"v":48},{"t":26.375,"c":4.775,"v":52},{"t":26.625,"c":4.775,"v":57},{"t":26.875,"c":4.775,"v":61},{"t":27.125,"c":4.775,"v":66},{"t":27.375,"c":4.775,"v":70},{"t":27.625,"c":4.775,"v":74},{"t":27.875,"c":4.775,"v":78},{"t":28.125,"c":4.775,"v":82},{"t":28.375,"c":4.775,"v":86},{"t":28.625,"c":4.775,"v":90},{"t":28.875,"c":4.775,"v":94},{"t":29.125,"c":4.775,"v":98},{"t":29.375,"c":4.775,"v":102},{"t":29.625,"c":4.775,"v":105},{"t":29.875,"c":4.775,"v":109},{"t":30.125,"c":4.775,"v":113},{"t":30.375,"c":4.775,"v":116},{"t":30.625,"c":4.775,"v":120},{"t":30.875,"c":4.775,"v":123},{"t":31.125,"c":4.775,"v":126},{"t":31.375,"c":4.775,"v":130},{"t":31.625,"c":4.775,"v":133},{"t":31.875,"c":4.775,"v":136},{"t":32.125,"c":4.775,"v":139},{"t":32.375,"c":4.775,"v":142},{"t":32.625,"c":4.775,"v":145},{"t":32.875,"c":4.775,"v":148},{"t":33.125,"c":4.775,"v":151},{"t":33.375,"c":4.775,"v":154},{"t":33.625,"c":4.775,"v":156},{"t":33.875,"c":4.775,"v":159},{"t":34.125,"c":4.775,"v":162},{"t":34.375,"c":4.775,"v":164},{"t":34.625,"c":4.775,"v":167},{"t":34.875,"c":4.775,"v":169},
      {"t":25.125,"c":4.825,"v":28},{"t":25.375,"c":4.825,"v":33},{"t":25.625,"c":4.825,"v":38},{"t":25.875,"c":4.825,"v":43},{"t":26.125,"c":4.825,"v":47},{"t":26.375,"c":4.825,"v":52},{"t":26.625,"c":4.825,"v":57},{"t":26.875,"c":4.825,"v":61},{"t":27.125,"c":4.825,"v":65},{"t":27.375,"c":4.825,"v":70},{"t":27.625,"c":4.825,"v":74},{"t":27.875,"c":4.825,"v":78},{"t":28.125,"c":4.825,"v":82},{"t":28.375,"c":4.825,"v":87},{"t":28.625,"c":4.825,"v":91},{"t":28.875,"c":4.825,"v":95},{"t":29.125,"c":4.825,"v":99},{"t":29.375,"c":4.825,"v":102},{"t":29.625,"c":4.825,"v":106},{"t":29.875,"c":4.825,"v":110},{"t":30.125,"c":4.825,"v":114},{"t":30.375,"c":4.825,"v":117},{"t":30.625,"c":4.825,"v":121},{"t":30.875,"c":4.825,"v":124},{"t":31.125,"c":4.825,"v":128},{"t":31.375,"c":4.825,"v":131},{"t":31.625,"c":4.825,"v":134},{"t":31.875,"c":4.825,"v":138},{"t":32.125,"c":4.825,"v":141},{"t":32.375,"c":4.825,"v":144},{"t":32.625,"c":4.825,"v":147},{"t":32.875,"c":4.825,"v":150},{"t":33.125,"c":4.825,"v":153},{"t":33.375,"c":4.825,"v":156},{"t":33.625,"c":4.825,"v":159},{"t":33.875,"c":4.825,"v":162},{"t":34.125,"c":4.825,"v":164},{"t":34.375,"c":4.825,"v":167},{"t":34.625,"c":4.825,"v":169},{"t":34.875,"c":4.825,"v":172},
      {"t":25.125,"c":4.875,"v":27},{"t":25.375,"c":4.875,"v":32},{"t":25.625,"c":4.875,"v":37},{"t":25.875,"c":4.875,"v":42},{"t":26.125,"c":4.875,"v":47},{"t":26.375,"c":4.875,"v":52},{"t":26.625,"c":4.875,"v":56},{"t":26.875,"c":4.875,"v":61},{"t":27.125,"c":4.875,"v":65},{"t":27.375,"c":4.875,"v":70},{"t":27.625,"c":4.875,"v":74},{"t":27.875,"c":4.875,"v":78},{"t":28.125,"c":4.875,"v":83},{"t":28.375,"c":4.875,"v":87},{"t":28.625,"c":4.875,"v":91},{"t":28.875,"c":4.875,"v":95},{"t":29.125,"c":4.875,"v":99},{"t":29.375,"c":4.875,"v":103},{"t":29.625,"c":4.875,"v":107},{"t":29.875,"c":4.875,"v":111},{"t":30.125,"c":4.875,"v":115},{"t":30.375,"c":4.875,"v":118},{"t":30.625,"c":4.875,"v":122},{"t":30.875,"c":4.875,"v":126},{"t":31.125,"c":4.875,"v":129},{"t":31.375,"c":4.875,"v":133},{"t":31.625,"c":4.875,"v":136},{"t":31.875,"c":4.875,"v":139},{"t":32.125,"c":4.875,"v":143},{"t":32.375,"c":4.875,"v":146},{"t":32.625,"c":4.875,"v":149},{"t":32.875,"c":4.875,"v":152},{"t":33.125,"c":4.875,"v":155},{"t":33.375,"c":4.875,"v":158},{"t":33.625,"c":4.875,"v":161},{"t":33.875,"c":4.875,"v":164},{"t":34.125,"c":4.875,"v":167},{"t":34.375,"c":4.875,"v":170},{"t":34.625,"c":4.875,"v":172},{"t":34.875,"c":4.875,"v":175},
      {"t":25.125,"c":4.925,"v":26},{"t":25.375,"c":4.925,"v":31},{"t":25.625,"c":4.925,"v":36},{"t":25.875,"c":4.925,"v":41},{"t":26.125,"c":4.925,"v":46},{"t":26.375,"c":4.925,"v":51},{"t":26.625,"c":4.925,"v":56},{"t":26.875,"c":4.925,"v":60},{"t":27.125,"c":4.925,"v":65},{"t":27.375,"c":4.925,"v":70},{"t":27.625,"c":4.925,"v":74},{"t":27.875,"c":4.925,"v":78},{"t":28.125,"c":4.925,"v":83},{"t":28.375,"c":4.925,"v":87},{"t":28.625,"c":4.925,"v":91},{"t":28.875,"c":4.925,"v":96},{"t":29.125,"c":4.925,"v":100},{"t":29.375,"c":4.925,"v":104},{"t":29.625,"c":4.925,"v":108},{"t":29.875,"c":4.925,"v":112},{"t":30.125,"c":4.925,"v":116},{"t":30.375,"c":4.925,"v":119},{"t":30.625,"c":4.925,"v":123},{"t":30.875,"c":4.925,"v":127},{"t":31.125,"c":4.925,"v":130},{"t":31.375,"c":4.925,"v":134},{"t":31.625,"c":4.925,"v":138},{"t":31.875,"c":4.925,"v":141},{"t":32.125,"c":4.925,"v":144},{"t":32.375,"c":4.925,"v":148},{"t":32.625,"c":4.925,"v":151},{"t":32.875,"c":4.925,"v":154},{"t":33.125,"c":4.925,"v":157},{"t":33.375,"c":4.925,"v":160},{"t":33.625,"c":4.925,"v":163},{"t":33.875,"c":4.925,"v":166},{"t":34.125,"c":4.925,"v":169},{"t":34.375,"c":4.925,"v":172},{"t":34.625,"c":4.925,"v":175},{"t":34.875,"c":4.925,"v":178},
      {"t":25.125,"c":4.975,"v":25},{"t":25.375,"c":4.975,"v":31},{"t":25.625,"c":4.975,"v":36},{"t":25.875,"c":4.975,"v":41},{"t":26.125,"c":4.975,"v":46},{"t":26.375,"c":4.975,"v":50},{"t":26.625,"c":4.975,"v":55},{"t":26.875,"c":4.975,"v":60},{"t":27.125,"c":4.975,"v":65},{"t":27.375,"c":4.975,"v":69},{"t":27.625,"c":4.975,"v":74},{"t":27.875,"c":4.975,"v":79},{"t":28.125,"c":4.975,"v":83},{"t":28.375,"c":4.975,"v":87},{"t":28.625,"c":4.975,"v":92},{"t":28.875,"c":4.975,"v":96},{"t":29.125,"c":4.975,"v":100},{"t":29.375,"c":4.975,"v":104},{"t":29.625,"c":4.975,"v":108},{"t":29.875,"c":4.975,"v":113},{"t":30.125,"c":4.975,"v":116},{"t":30.375,"c":4.975,"v":120},{"t":30.625,"c":4.975,"v":124},{"t":30.875,"c":4.975,"v":128},{"t":31.125,"c":4.975,"v":132},{"t":31.375,"c":4.975,"v":135},{"t":31.625,"c":4.975,"v":139},{"t":31.875,"c":4.975,"v":143},{"t":32.125,"c":4.975,"v":146},{"t":32.375,"c":4.975,"v":150},{"t":32.625,"c":4.975,"v":153},{"t":32.875,"c":4.975,"v":156},{"t":33.125,"c":4.975,"v":159},{"t":33.375,"c":4.975,"v":163},{"t":33.625,"c":4.975,"v":166},{"t":33.875,"c":4.975,"v":169},{"t":34.125,"c":4.975,"v":172},{"t":34.375,"c":4.975,"v":175},{"t":34.625,"c":4.975,"v":178},{"t":34.875,"c":4.975,"v":180}
    ],
    "contours": [
      {"level":"49.0399","i":1,"t":26.32,"c":5.0},
      {"level":"49.0399","i":2,"t":26.18,"c":4.787},
      {"level":"49.0399","i":3,"t":26.055,"c":4.497},
      {"level":"49.0399","i":4,"t":26.037,"c":4.281},
      {"level":"49.0399","i":5,"t":26.105,"c":3.991},
      {"level":"49.0399","i":6,"t":26.196,"c":3.835},
      {"level":"49.0399","i":7,"t":26.472,"c":3.654},
      {"level":"49.0399","i":8,"t":26.93,"c":3.485},
      {"level":"49.0399","i":9,"t":27.266,"c":3.405},
      {"level":"49.0399","i":10,"t":27.939,"c":3.292},
      {"level":"49.0399","i":11,"t":28.857,"c":3.208},
      {"level":"49.0399","i":12,"t":30.018,"c":3.16},
      {"level":"49.0399","i":13,"t":31.15,"c":3.145},
      {"level":"49.0399","i":14,"t":32.372,"c":3.15},
      {"level":"49.0399","i":15,"t":33.596,"c":3.178},
      {"level":"49.0399","i":16,"t":35.0,"c":3.214},
      {"level":"75.8561","i":1,"t":27.712,"c":5.0},
      {"level":"75.8561","i":2,"t":27.756,"c":4.666},
      {"level":"75.8561","i":3,"t":27.877,"c":4.497},
      {"level":"75.8561","i":4,"t":28.105,"c":4.305},
      {"level":"75.8561","i":5,"t":28.409,"c":4.112},
      {"level":"75.8561","i":6,"t":28.624,"c":3.991},
      {"level":"75.8561","i":7,"t":28.857,"c":3.913},
      {"level":"75.8561","i":8,"t":29.224,"c":3.829},
      {"level":"75.8561","i":9,"t":30.018,"c":3.69},
      {"level":"75.8561","i":10,"t":30.844,"c":3.618},
      {"level":"75.8561","i":11,"t":32.068,"c":3.539},
      {"level":"75.8561","i":12,"t":33.29,"c":3.509},
      {"level":"75.8561","i":13,"t":35.0,"c":3.506},
      {"level":"102.672","i":1,"t":29.248,"c":5.0},
      {"level":"102.672","i":2,"t":29.528,"c":4.666},
      {"level":"102.672","i":3,"t":29.927,"c":4.474},
      {"level":"102.672","i":4,"t":30.508,"c":4.269},
      {"level":"102.672","i":5,"t":30.875,"c":4.178},
      {"level":"102.672","i":6,"t":31.455,"c":4.076},
      {"level":"102.672","i":7,"t":32.189,"c":3.986},
      {"level":"102.672","i":8,"t":32.679,"c":3.937},
      {"level":"102.672","i":9,"t":33.596,"c":3.871},
      {"level":"102.672","i":10,"t":35.0,"c":3.825},
      {"level":"129.488","i":1,"t":30.923,"c":5.0},
      {"level":"129.488","i":2,"t":31.12,"c":4.907},
      {"level":"129.488","i":3,"t":31.455,"c":4.727},
      {"level":"129.488","i":4,"t":32.006,"c":4.564},
      {"level":"129.488","i":5,"t":32.372,"c":4.479},
      {"level":"129.488","i":6,"t":33.169,"c":4.341},
      {"level":"129.488","i":7,"t":33.72,"c":4.281},
      {"level":"129.488","i":8,"t":34.207,"c":4.232},
      {"level":"129.488","i":9,"t":35.0,"c":4.17},
      {"level":"156.304","i":1,"t":32.802,"c":5.0},
      {"level":"156.304","i":2,"t":33.05,"c":4.907},
      {"level":"156.304","i":3,"t":33.352,"c":4.839},
      {"level":"156.304","i":4,"t":33.719,"c":4.753},
      {"level":"156.304","i":5,"t":34.33,"c":4.654},
      {"level":"156.304","i":6,"t":35.0,"c":4.558}
    ],
    "labels": [
      {"level":"49.0399","t":27.275,"c":3.446},
      {"level":"75.8561","t":29.202,"c":3.871},
      {"level":"102.672","t":30.862,"c":4.22},
      {"level":"129.488","t":32.385,"c":4.52},
      {"level":"156.304","t":33.737,"c":4.794}
    ]
  },
  "layer": [
    {
      "data": {"name": "grid"},
      "mark": {"type": "rect", "strokeWidth": 0.5},
      "encoding": {
        "x": {
          "field": "t",
          "type": "quantitative",
          "bin": {"step": 0.25, "extent": [25, 35]},
          "scale": {"domain": [25, 35], "nice": false, "zero": false},
          "axis": {
            "values": [25, 27.5, 30, 32.5, 35],
            "format": ".2f",
            "labelPadding": 4,
            "title": "Temperatura (°C)",
            "titleY": 112,
            "titleBaseline": "alphabetic"
          }
        },
        "y": {
          "field": "c",
          "type": "quantitative",
          "bin": {"step": 0.05, "extent": [3, 5]},
          "scale": {"domain": [3, 5], "nice": false, "zero": false},
          "axis": {
            "values": [3, 3.5, 4, 4.5, 5],
            "format": ".2f",
            "labelPadding": 6,
            "title": "C. Residuo L. (g/L)",
            "titleX": -96,
            "titleY": 276.6,
            "titleBaseline": "alphabetic"
          }
        },
        "color": {
          "field": "v",
          "type": "quantitative",
          "scale": {"domain": [22.2, 75.9, 129.5, 196], "range": ["#0000ff", "#00ffff", "#00ff00", "#ffff00"], "interpolate": "rgb", "clamp": true},
          "legend": null
        },
        "stroke": {
          "field": "v",
          "type": "quantitative",
          "scale": {"domain": [22.2, 75.9, 129.5, 196], "range": ["#0000ff", "#00ffff", "#00ff00", "#ffff00"], "interpolate": "rgb", "clamp": true},
          "legend": null
        }
      }
    },
    {
      "data": {"name": "contours"},
      "mark": {"type": "line", "color": "black", "strokeWidth": 1, "interpolate": "basis", "clip": true},
      "encoding": {
        "x": {"field": "t", "type": "quantitative"},
        "y": {"field": "c", "type": "quantitative"},
        "detail": {"field": "level", "type": "nominal"},
        "order": {"field": "i", "type": "quantitative"}
      }
    },
    {
      "data": {"name": "labels"},
      "mark": {"type": "point", "shape": "M-1,-0.315H1V0.315H-1Z", "size": 5329, "filled": true, "fill": "white", "stroke": "black", "strokeWidth": 1, "opacity": 1},
      "encoding": {
        "x": {"field": "t", "type": "quantitative"},
        "y": {"field": "c", "type": "quantitative"}
      }
    },
    {
      "data": {"name": "labels"},
      "mark": {"type": "text", "fontSize": 18, "color": "black", "align": "center", "baseline": "middle"},
      "encoding": {
        "x": {"field": "t", "type": "quantitative"},
        "y": {"field": "c", "type": "quantitative"},
        "text": {"field": "level", "type": "nominal"}
      }
    }
  ]
}
